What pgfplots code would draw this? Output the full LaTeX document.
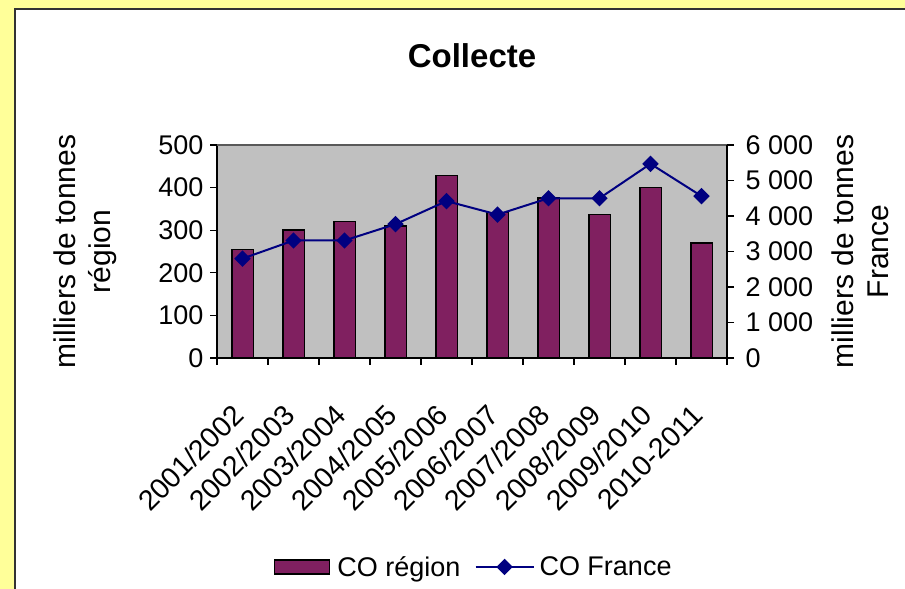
\documentclass[border=0pt]{standalone}
\usepackage{fontspec}
\setmainfont{Liberation Sans}
\usepackage{pgfplots}
\pgfplotsset{compat=1.18}

\definecolor{bgyellow}{RGB}{255,255,153}
\definecolor{plotgray}{RGB}{192,192,192}
\definecolor{barplum}{RGB}{128,32,96}
\definecolor{navyline}{RGB}{0,0,128}
\definecolor{panelframe}{RGB}{51,51,51}

\newcommand{\ticksize}{\fontsize{27bp}{32bp}\selectfont}
\newcommand{\labsize}{\fontsize{30bp}{35bp}\selectfont}

\pgfplotsset{
  collecte/.style={
    width=510bp, height=213bp, scale only axis,
    at={(217bp,231bp)}, anchor=south west,
    xmin=0.5, xmax=10.5,
    tick align=outside,
    major tick length=7bp,
    tick style={black, line width=1.2bp},
    axis line style={black, line width=1.5bp, -},
    /pgf/number format/assume math mode=true,
    ticklabel style={font=\ticksize},
    label style={font=\labsize, align=center},
  }
}

\begin{document}
\begin{tikzpicture}
\useasboundingbox (0,0) rectangle (905bp,589bp);
\fill[bgyellow] (0,0) rectangle (905bp,589bp);
\filldraw[fill=white, draw=panelframe, line width=2bp] (15bp,-20bp) rectangle (930bp,579.5bp);
\node[font=\bfseries\fontsize{33bp}{38bp}\selectfont] at (472bp,533bp) {Collecte};

% ---- left axis: bars (region)
\begin{axis}[collecte,
  axis background/.style={fill=plotgray},
  axis x line*=bottom, axis y line*=left,
  ymin=0, ymax=500, ytick={0,100,...,500},
  xtick={0.5,1.5,...,10.5},
  x tick label as interval,
  xticklabels={2001/2002,2002/2003,2003/2004,2004/2005,2005/2006,2006/2007,2007/2008,2008/2009,2009/2010,2010-2011},
  xticklabel style={font=\fontsize{28.5bp}{32bp}\selectfont,
    xshift=-4bp, yshift=-45bp, rotate=45, anchor=east, inner sep=0pt},
  yticklabel style={xshift=-3bp},
  ylabel={milliers de tonnes\\région},
  ylabel style={at={(axis description cs:-0.258,0.5)}, anchor=center, rotate=0},
]
\addplot[ybar, bar width=21.5bp, fill=barplum, draw=black, line width=1.5bp]
coordinates {(1,255) (2,300) (3,320) (4,310) (5,428) (6,342) (7,375) (8,337) (9,400) (10,270)};
\draw[gray!70!black, line width=1.5bp] (rel axis cs:0,1) -- (rel axis cs:1,1);
\end{axis}

% ---- right axis: line (France)
\begin{axis}[collecte,
  axis x line=none, axis y line*=right,
  ymin=0, ymax=6000, ytick={0,1000,...,6000},
  scaled y ticks=false,
  yticklabel style={xshift=8bp, /pgf/number format/1000 sep={\ }},
  ylabel={milliers de tonnes\\France},
  ylabel style={at={(axis description cs:1.262,0.5)}, anchor=center, rotate=0},
  legend columns=2,
  legend style={draw=none, fill=none, at={(0.503,-0.981)}, anchor=center,
    font=\ticksize, /tikz/every even column/.append style={column sep=12bp}},
]
\addlegendimage{legend image code/.code={
  \filldraw[fill=barplum, draw=black, line width=1.5bp] (0bp,-7bp) rectangle (55bp,7bp);
  \path (61bp,0bp);}}
\addlegendentry{CO région}
\addplot[navyline, line width=2bp, mark=square*, mark size=4.8bp,
  mark options={rotate=45, fill=navyline},
  legend image code/.code={
    \draw[navyline, line width=2bp] (0bp,0bp) -- (58bp,0bp);
    \fill[navyline] (29bp,6.8bp) -- (35.8bp,0bp) -- (29bp,-6.8bp) -- (22.2bp,0bp) -- cycle;
    \path (61bp,0bp);}]
coordinates {(1,2800) (2,3310) (3,3310) (4,3770) (5,4420) (6,4040) (7,4500) (8,4500) (9,5470) (10,4560)};
\addlegendentry{CO France}
\end{axis}
\end{tikzpicture}
\end{document}
